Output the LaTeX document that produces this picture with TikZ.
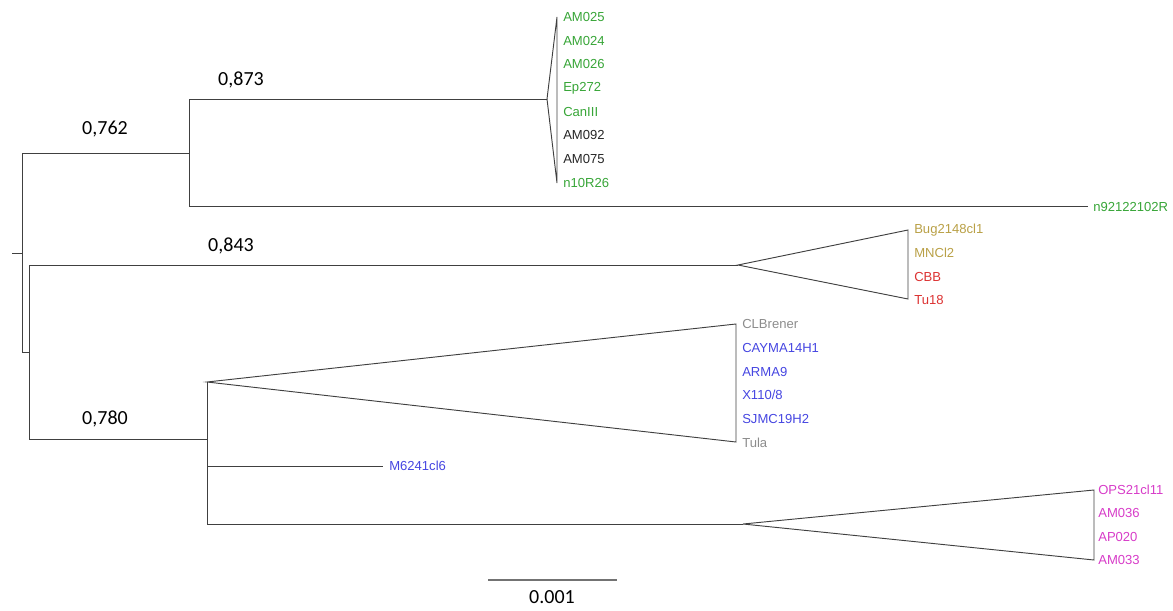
\documentclass[tikz,border=0pt]{standalone}
\usepackage{fontspec}
\setmainfont{Liberation Sans}
\newfontfamily\supportfont{Carlito}
\usepackage{tikz}
\usetikzlibrary{positioning,calc}
\definecolor{cladegreen}{RGB}{55,165,55}
\definecolor{cladeolive}{RGB}{185,160,70}
\definecolor{cladered}{RGB}{220,50,50}
\definecolor{cladeblue}{RGB}{70,70,225}
\definecolor{cladegray}{RGB}{140,140,140}
\definecolor{clademagenta}{RGB}{215,60,200}
\tikzset{
  branch/.style={draw=black!75, line width=0.7pt},
  taxon/.style={anchor=west, inner sep=0pt, font=\fontsize{9.8}{11}\selectfont},
  support/.style={inner sep=0pt, font=\supportfont\fontsize{15}{17}\selectfont}
}

\begin{document}
\begin{tikzpicture}[x=0.75pt,y=-0.75pt]
      \useasboundingbox (0,0) rectangle (1173,610);
      % inner nodes
      \coordinate (stub) at (12,253);
      \coordinate (root) at (22,253);
      \coordinate (root_up) at (22,153);
      \coordinate (root_down) at (22,352);
      \coordinate (node_a) at (189,153);
      \coordinate (node_a_up) at (189,99);
      \coordinate (node_a_down) at (189,206);
      \coordinate (node_b) at (29,352);
      \coordinate (node_b_up) at (29,265);
      \coordinate (node_b_down) at (29,439);
      \coordinate (node_c) at (207,439);
      \coordinate (node_c_up) at (207,382);
      \coordinate (node_c_mid) at (207,466);
      \coordinate (node_c_down) at (207,524);
      % collapsed clades
      \coordinate (apex_green) at (547,99);
      \coordinate (green_top) at (557,17);
      \coordinate (green_bottom) at (557,183);
      \coordinate (apex_red) at (738,265);
      \coordinate (red_top) at (908,230);
      \coordinate (red_bottom) at (908,299);
      \coordinate (blue_top) at (736,324);
      \coordinate (blue_bottom) at (736,442);
      \coordinate (apex_pink) at (743,524);
      \coordinate (pink_top) at (1094,490);
      \coordinate (pink_bottom) at (1094,560);
      \coordinate (tip_n921) at (1088,206);
      \coordinate (tip_m624) at (383,466);

      \draw [branch] (stub) -- (root);
      \draw [branch] (root_up) -- (root_down);
      \draw [branch] (root_up) -- (node_a);
      \draw [branch] (node_a_up) -- (node_a_down);
      \draw [branch] (node_a_up) -- (apex_green);
      \draw [branch] (green_top) -- (apex_green) -- (green_bottom) -- cycle;
      \draw [branch] (node_a_down) -- (tip_n921);
      \draw [branch] (root_down) -- (node_b);
      \draw [branch] (node_b_up) -- (node_b_down);
      \draw [branch] (node_b_up) -- (apex_red);
      \draw [branch] (apex_red) -- (red_top) -- (red_bottom) -- cycle;
      \draw [branch] (node_b_down) -- (node_c);
      \draw [branch] (node_c_up) -- (node_c_down);
      \draw [branch] (node_c_up) -- (blue_top) -- (blue_bottom) -- cycle;
      \draw [branch] (node_c_mid) -- (tip_m624);
      \draw [branch] (node_c_down) -- (apex_pink);
      \draw [branch] (apex_pink) -- (pink_top) -- (pink_bottom) -- cycle;

      % support values
      \node (sup_873) [support] at (241,80) {0,873};
      \node (sup_762) [support] at (105,129) {0,762};
      \node (sup_843) [support] at (231,246) {0,843};
      \node (sup_780) [support] at (105,419) {0,780};

      % taxa
      \node (am025) [taxon, text=cladegreen] at (563,17) {AM025};
      \node (am024) [taxon, text=cladegreen] at (563,41) {AM024};
      \node (am026) [taxon, text=cladegreen] at (563,64) {AM026};
      \node (ep272) [taxon, text=cladegreen] at (563,88) {Ep272};
      \node (caniii) [taxon, text=cladegreen] at (563,112) {CanIII};
      \node (am092) [taxon, text=black!85] at (563,135) {AM092};
      \node (am075) [taxon, text=black!85] at (563,159) {AM075};
      \node (n10r26) [taxon, text=cladegreen] at (563,183) {n10R26};
      \node (n92122102r) [taxon, text=cladegreen] at (1093,207) {n92122102R};
      \node (bug2148) [taxon, text=cladeolive] at (914,230) {Bug2148cl1};
      \node (mncl2) [taxon, text=cladeolive] at (914,253) {MNCl2};
      \node (cbb) [taxon, text=cladered] at (914,277) {CBB};
      \node (tu18) [taxon, text=cladered] at (914,300) {Tu18};
      \node (clbrener) [taxon, text=cladegray] at (742,324) {CLBrener};
      \node (cayma) [taxon, text=cladeblue] at (742,348) {CAYMA14H1};
      \node (arma9) [taxon, text=cladeblue] at (742,372) {ARMA9};
      \node (x110) [taxon, text=cladeblue] at (742,395) {X110/8};
      \node (sjmc) [taxon, text=cladeblue] at (742,419) {SJMC19H2};
      \node (tula) [taxon, text=cladegray] at (742,443) {Tula};
      \node (m6241) [taxon, text=cladeblue] at (389,466) {M6241cl6};
      \node (ops21) [taxon, text=clademagenta] at (1098,490) {OPS21cl11};
      \node (am036) [taxon, text=clademagenta] at (1098,513) {AM036};
      \node (ap020) [taxon, text=clademagenta] at (1098,537) {AP020};
      \node (am033) [taxon, text=clademagenta] at (1098,560) {AM033};

      % scale bar
      \coordinate (bar_left) at (488,580);
      \coordinate (bar_right) at (617,580);
      \draw [draw=black!55, line width=1pt] (bar_left) -- (bar_right);
      \node (bar_text) [support] at (552,597) {0.001};
    \end{tikzpicture}
\end{document}
